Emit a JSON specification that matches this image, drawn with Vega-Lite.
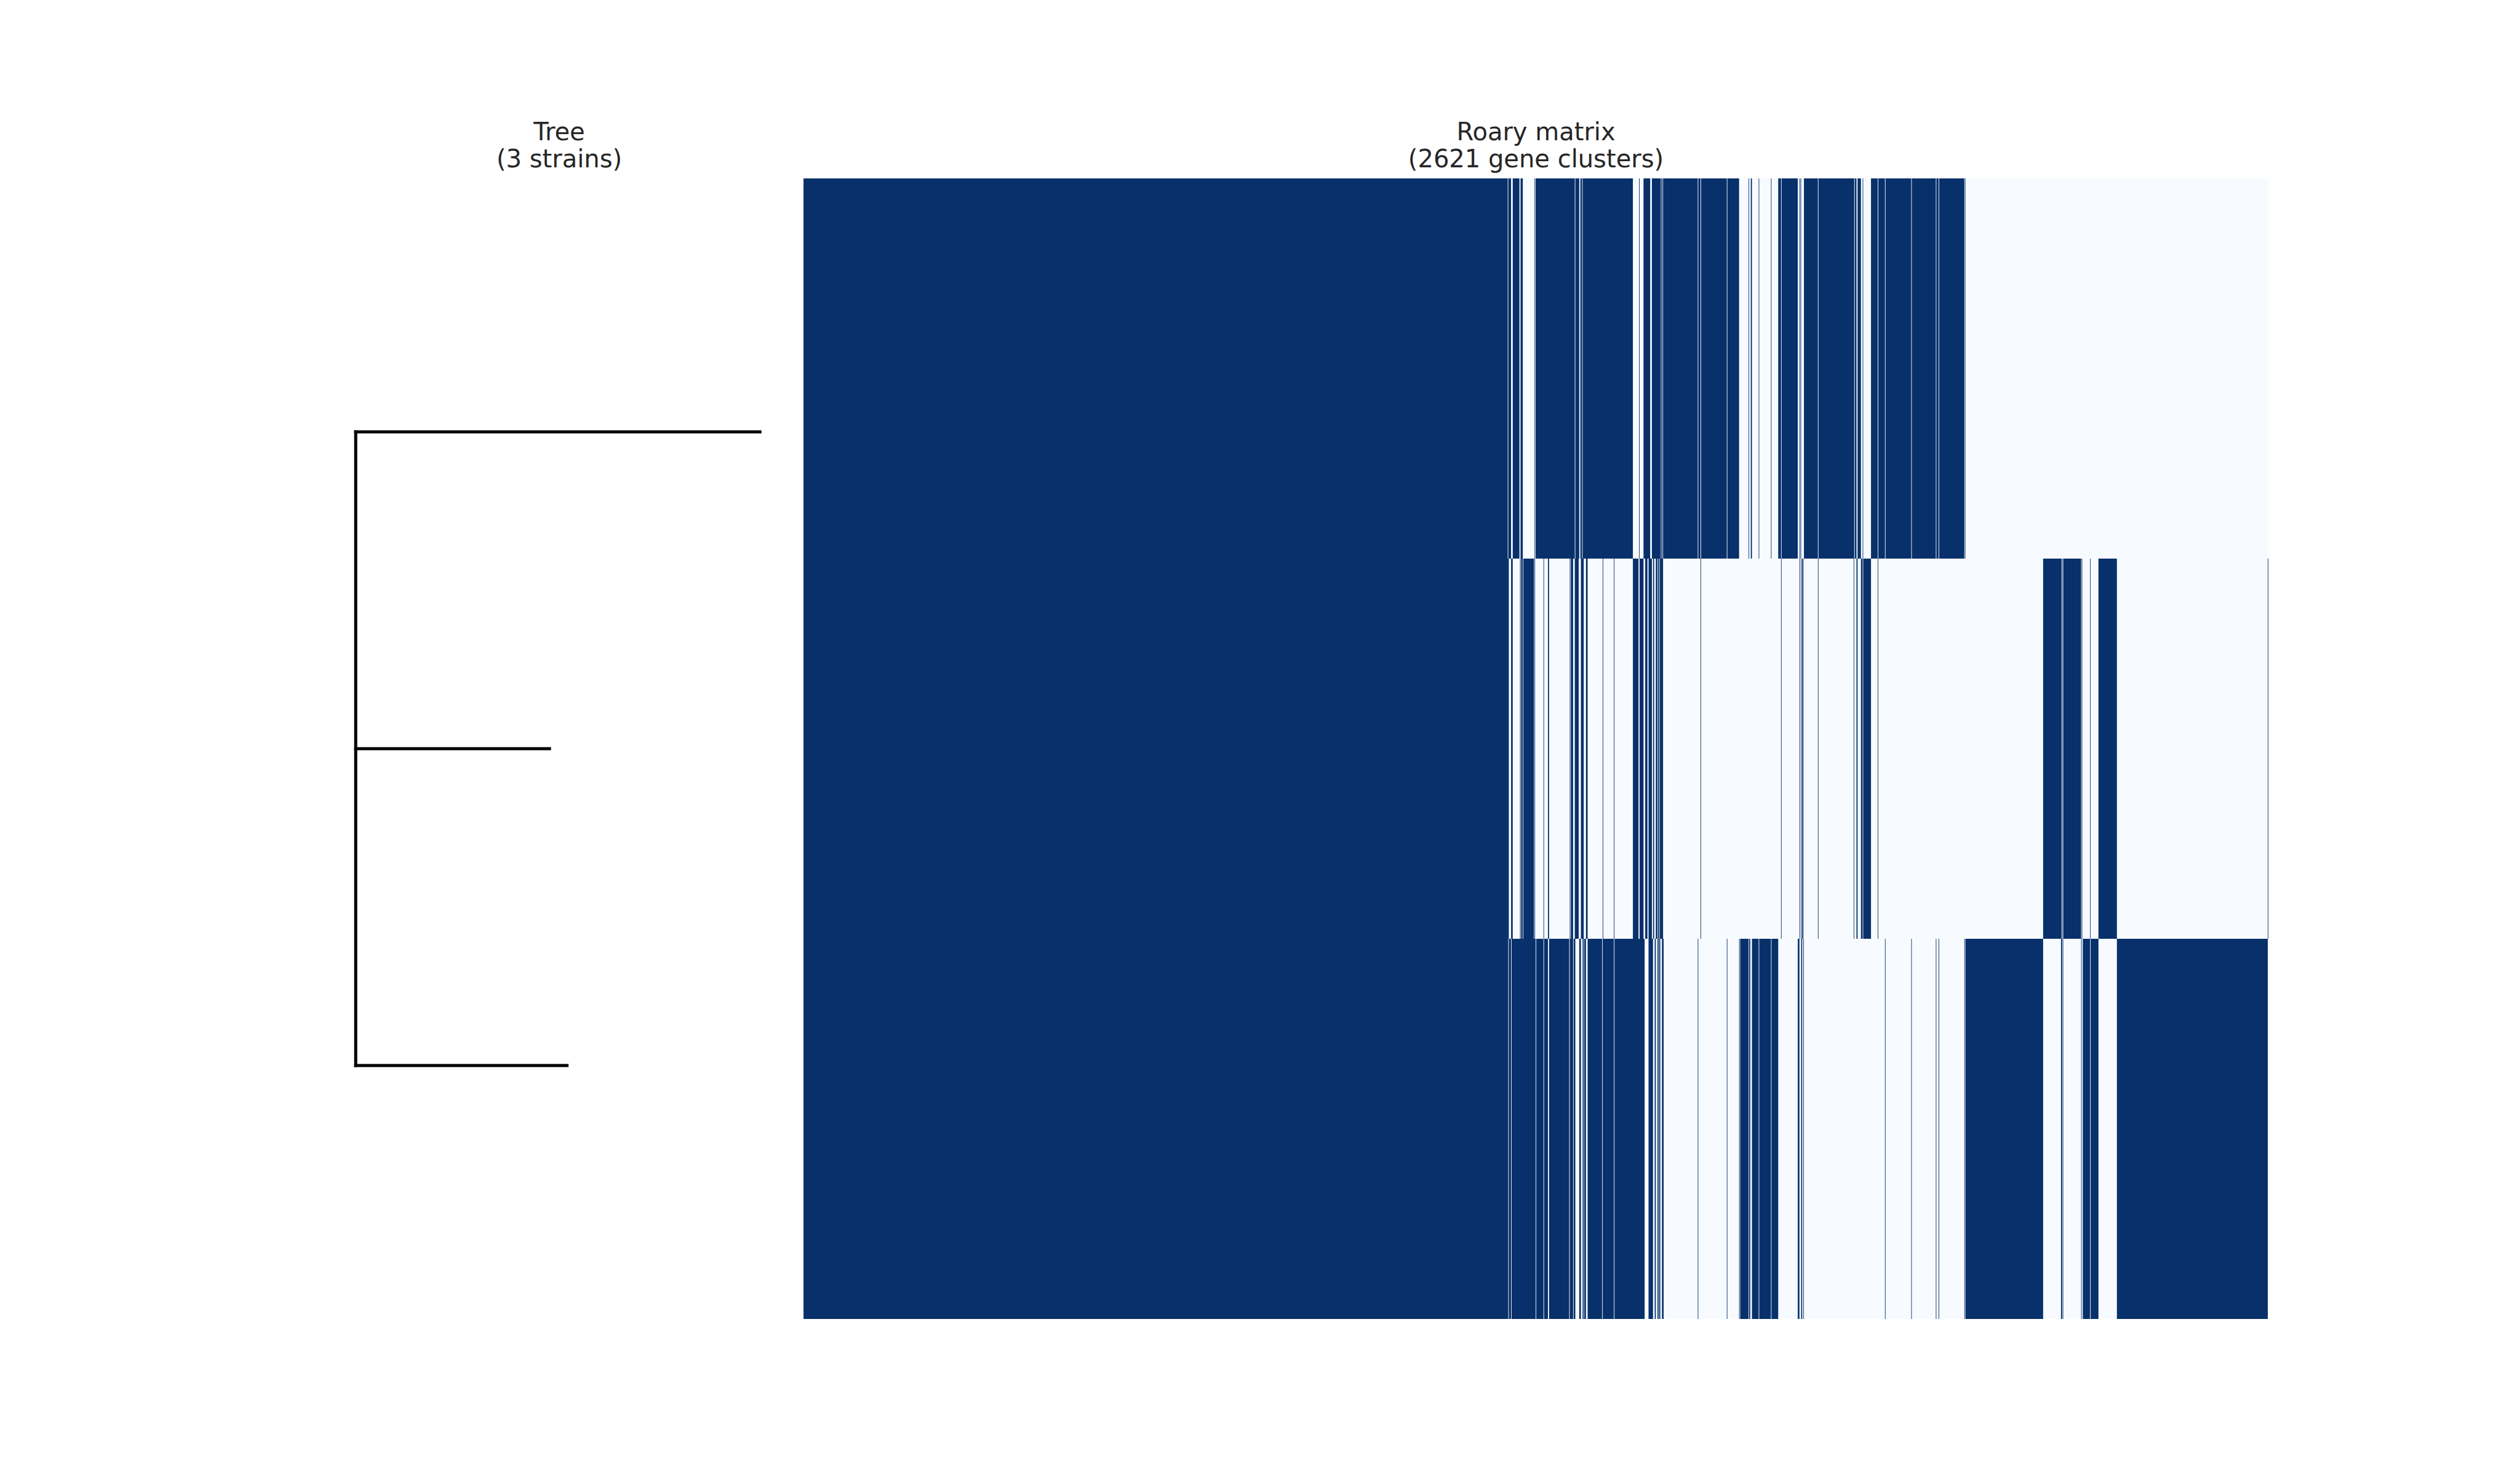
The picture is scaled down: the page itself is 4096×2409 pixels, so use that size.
{
  "$schema": "https://vega.github.io/schema/vega-lite/v6.json",
  "autosize": {"type": "pad"},
  "padding": {"left": 512, "top": 196, "right": 10, "bottom": 10},
  "background": "white",
  "spacing": 0,
  "config": {
    "view": {"stroke": null},
    "title": {"font": "DejaVu Sans", "fontSize": 40, "fontWeight": "normal", "color": "#262626", "lineHeight": 44, "baseline": "alphabetic", "offset": 10}
  },
  "hconcat": [
    {
      "width": 794,
      "height": 1854,
      "title": {"text": ["Tree", "(3 strains)"], "anchor": "middle"},
      "data": {"values": [
        {"branch": "root", "x0": 0, "x1": 0, "y0": 1, "y1": 3},
        {"branch": "strain 1", "x0": 0, "x1": 0.993, "y0": 1, "y1": 1},
        {"branch": "strain 2", "x0": 0, "x1": 0.476, "y0": 2, "y1": 2},
        {"branch": "strain 3", "x0": 0, "x1": 0.519, "y0": 3, "y1": 3}
      ]},
      "mark": {"type": "rule", "color": "black", "strokeWidth": 5, "strokeCap": "square"},
      "encoding": {
        "x": {"field": "x0", "type": "quantitative", "scale": {"domain": [-0.1, 1.1], "nice": false, "zero": false}, "axis": null},
        "x2": {"field": "x1"},
        "y": {"field": "y0", "type": "quantitative", "scale": {"domain": [0.2, 3.8], "reverse": true, "nice": false, "zero": false}, "axis": null},
        "y2": {"field": "y1"}
      }
    },
    {
      "width": 2381,
      "height": 1854,
      "title": {"text": ["Roary matrix", "(2621 gene clusters)"], "anchor": "middle"},
      "data": {"values": [
        {"strain": "strain 1", "start": 0, "end": 2621, "present": 0},
        {"strain": "strain 2", "start": 0, "end": 2621, "present": 0},
        {"strain": "strain 3", "start": 0, "end": 2621, "present": 0},
        {"strain": "strain 1", "start": 0, "end": 1260, "present": 1},
        {"strain": "strain 1", "start": 1261, "end": 1266, "present": 1},
        {"strain": "strain 1", "start": 1269, "end": 1281, "present": 1},
        {"strain": "strain 1", "start": 1283, "end": 1287, "present": 1},
        {"strain": "strain 1", "start": 1308, "end": 1309, "present": 1},
        {"strain": "strain 1", "start": 1310, "end": 1380, "present": 1},
        {"strain": "strain 1", "start": 1381, "end": 1388, "present": 1},
        {"strain": "strain 1", "start": 1390, "end": 1393, "present": 1},
        {"strain": "strain 1", "start": 1394, "end": 1484, "present": 1},
        {"strain": "strain 1", "start": 1495, "end": 1496, "present": 1},
        {"strain": "strain 1", "start": 1503, "end": 1515, "present": 1},
        {"strain": "strain 1", "start": 1518, "end": 1534, "present": 1},
        {"strain": "strain 1", "start": 1535, "end": 1537, "present": 1},
        {"strain": "strain 1", "start": 1538, "end": 1600, "present": 1},
        {"strain": "strain 1", "start": 1601, "end": 1605, "present": 1},
        {"strain": "strain 1", "start": 1606, "end": 1652, "present": 1},
        {"strain": "strain 1", "start": 1653, "end": 1674, "present": 1},
        {"strain": "strain 1", "start": 1691, "end": 1692, "present": 1},
        {"strain": "strain 1", "start": 1695, "end": 1697, "present": 1},
        {"strain": "strain 1", "start": 1709, "end": 1710, "present": 1},
        {"strain": "strain 1", "start": 1731, "end": 1732, "present": 1},
        {"strain": "strain 1", "start": 1744, "end": 1749, "present": 1},
        {"strain": "strain 1", "start": 1750, "end": 1779, "present": 1},
        {"strain": "strain 1", "start": 1782, "end": 1783, "present": 1},
        {"strain": "strain 1", "start": 1784, "end": 1785, "present": 1},
        {"strain": "strain 1", "start": 1790, "end": 1815, "present": 1},
        {"strain": "strain 1", "start": 1816, "end": 1880, "present": 1},
        {"strain": "strain 1", "start": 1881, "end": 1884, "present": 1},
        {"strain": "strain 1", "start": 1886, "end": 1892, "present": 1},
        {"strain": "strain 1", "start": 1895, "end": 1896, "present": 1},
        {"strain": "strain 1", "start": 1910, "end": 1922, "present": 1},
        {"strain": "strain 1", "start": 1923, "end": 1935, "present": 1},
        {"strain": "strain 1", "start": 1936, "end": 1982, "present": 1},
        {"strain": "strain 1", "start": 1983, "end": 2026, "present": 1},
        {"strain": "strain 1", "start": 2027, "end": 2031, "present": 1},
        {"strain": "strain 1", "start": 2032, "end": 2077, "present": 1},
        {"strain": "strain 1", "start": 2078, "end": 2079, "present": 1},
        {"strain": "strain 2", "start": 0, "end": 1262, "present": 1},
        {"strain": "strain 2", "start": 1266, "end": 1269, "present": 1},
        {"strain": "strain 2", "start": 1282, "end": 1283, "present": 1},
        {"strain": "strain 2", "start": 1284, "end": 1287, "present": 1},
        {"strain": "strain 2", "start": 1288, "end": 1307, "present": 1},
        {"strain": "strain 2", "start": 1308, "end": 1309, "present": 1},
        {"strain": "strain 2", "start": 1324, "end": 1325, "present": 1},
        {"strain": "strain 2", "start": 1332, "end": 1334, "present": 1},
        {"strain": "strain 2", "start": 1371, "end": 1372, "present": 1},
        {"strain": "strain 2", "start": 1373, "end": 1377, "present": 1},
        {"strain": "strain 2", "start": 1380, "end": 1387, "present": 1},
        {"strain": "strain 2", "start": 1391, "end": 1396, "present": 1},
        {"strain": "strain 2", "start": 1400, "end": 1403, "present": 1},
        {"strain": "strain 2", "start": 1430, "end": 1431, "present": 1},
        {"strain": "strain 2", "start": 1450, "end": 1451, "present": 1},
        {"strain": "strain 2", "start": 1484, "end": 1494, "present": 1},
        {"strain": "strain 2", "start": 1496, "end": 1503, "present": 1},
        {"strain": "strain 2", "start": 1506, "end": 1510, "present": 1},
        {"strain": "strain 2", "start": 1512, "end": 1518, "present": 1},
        {"strain": "strain 2", "start": 1520, "end": 1522, "present": 1},
        {"strain": "strain 2", "start": 1525, "end": 1528, "present": 1},
        {"strain": "strain 2", "start": 1529, "end": 1531, "present": 1},
        {"strain": "strain 2", "start": 1532, "end": 1538, "present": 1},
        {"strain": "strain 2", "start": 1605, "end": 1606, "present": 1},
        {"strain": "strain 2", "start": 1749, "end": 1750, "present": 1},
        {"strain": "strain 2", "start": 1782, "end": 1783, "present": 1},
        {"strain": "strain 2", "start": 1785, "end": 1786, "present": 1},
        {"strain": "strain 2", "start": 1787, "end": 1789, "present": 1},
        {"strain": "strain 2", "start": 1815, "end": 1816, "present": 1},
        {"strain": "strain 2", "start": 1879, "end": 1880, "present": 1},
        {"strain": "strain 2", "start": 1884, "end": 1886, "present": 1},
        {"strain": "strain 2", "start": 1892, "end": 1895, "present": 1},
        {"strain": "strain 2", "start": 1896, "end": 1910, "present": 1},
        {"strain": "strain 2", "start": 1922, "end": 1923, "present": 1},
        {"strain": "strain 2", "start": 2218, "end": 2251, "present": 1},
        {"strain": "strain 2", "start": 2252, "end": 2253, "present": 1},
        {"strain": "strain 2", "start": 2254, "end": 2286, "present": 1},
        {"strain": "strain 2", "start": 2287, "end": 2288, "present": 1},
        {"strain": "strain 2", "start": 2302, "end": 2303, "present": 1},
        {"strain": "strain 2", "start": 2317, "end": 2350, "present": 1},
        {"strain": "strain 2", "start": 2620, "end": 2621, "present": 1},
        {"strain": "strain 3", "start": 0, "end": 1261, "present": 1},
        {"strain": "strain 3", "start": 1262, "end": 1266, "present": 1},
        {"strain": "strain 3", "start": 1267, "end": 1310, "present": 1},
        {"strain": "strain 3", "start": 1311, "end": 1324, "present": 1},
        {"strain": "strain 3", "start": 1325, "end": 1332, "present": 1},
        {"strain": "strain 3", "start": 1334, "end": 1370, "present": 1},
        {"strain": "strain 3", "start": 1371, "end": 1377, "present": 1},
        {"strain": "strain 3", "start": 1378, "end": 1381, "present": 1},
        {"strain": "strain 3", "start": 1388, "end": 1391, "present": 1},
        {"strain": "strain 3", "start": 1394, "end": 1396, "present": 1},
        {"strain": "strain 3", "start": 1397, "end": 1400, "present": 1},
        {"strain": "strain 3", "start": 1403, "end": 1429, "present": 1},
        {"strain": "strain 3", "start": 1430, "end": 1450, "present": 1},
        {"strain": "strain 3", "start": 1451, "end": 1505, "present": 1},
        {"strain": "strain 3", "start": 1512, "end": 1520, "present": 1},
        {"strain": "strain 3", "start": 1523, "end": 1525, "present": 1},
        {"strain": "strain 3", "start": 1528, "end": 1530, "present": 1},
        {"strain": "strain 3", "start": 1531, "end": 1533, "present": 1},
        {"strain": "strain 3", "start": 1536, "end": 1539, "present": 1},
        {"strain": "strain 3", "start": 1600, "end": 1601, "present": 1},
        {"strain": "strain 3", "start": 1652, "end": 1653, "present": 1},
        {"strain": "strain 3", "start": 1674, "end": 1675, "present": 1},
        {"strain": "strain 3", "start": 1676, "end": 1691, "present": 1},
        {"strain": "strain 3", "start": 1692, "end": 1694, "present": 1},
        {"strain": "strain 3", "start": 1697, "end": 1709, "present": 1},
        {"strain": "strain 3", "start": 1710, "end": 1731, "present": 1},
        {"strain": "strain 3", "start": 1732, "end": 1744, "present": 1},
        {"strain": "strain 3", "start": 1779, "end": 1782, "present": 1},
        {"strain": "strain 3", "start": 1785, "end": 1787, "present": 1},
        {"strain": "strain 3", "start": 1789, "end": 1790, "present": 1},
        {"strain": "strain 3", "start": 1935, "end": 1936, "present": 1},
        {"strain": "strain 3", "start": 1982, "end": 1983, "present": 1},
        {"strain": "strain 3", "start": 2026, "end": 2027, "present": 1},
        {"strain": "strain 3", "start": 2031, "end": 2032, "present": 1},
        {"strain": "strain 3", "start": 2077, "end": 2078, "present": 1},
        {"strain": "strain 3", "start": 2079, "end": 2218, "present": 1},
        {"strain": "strain 3", "start": 2250, "end": 2252, "present": 1},
        {"strain": "strain 3", "start": 2253, "end": 2254, "present": 1},
        {"strain": "strain 3", "start": 2286, "end": 2287, "present": 1},
        {"strain": "strain 3", "start": 2289, "end": 2302, "present": 1},
        {"strain": "strain 3", "start": 2303, "end": 2317, "present": 1},
        {"strain": "strain 3", "start": 2350, "end": 2620, "present": 1}
      ]},
      "mark": {"type": "rect"},
      "encoding": {
        "x": {"field": "start", "type": "quantitative", "scale": {"domain": [0, 2621], "nice": false, "zero": false}, "axis": null},
        "x2": {"field": "end"},
        "y": {"field": "strain", "type": "nominal", "sort": ["strain 1", "strain 2", "strain 3"], "scale": {"paddingInner": 0, "paddingOuter": 0}, "axis": null},
        "color": {"field": "present", "type": "quantitative", "scale": {"domain": [0, 1], "range": ["#f7fbff", "#08306b"]}, "legend": null}
      }
    }
  ]
}
